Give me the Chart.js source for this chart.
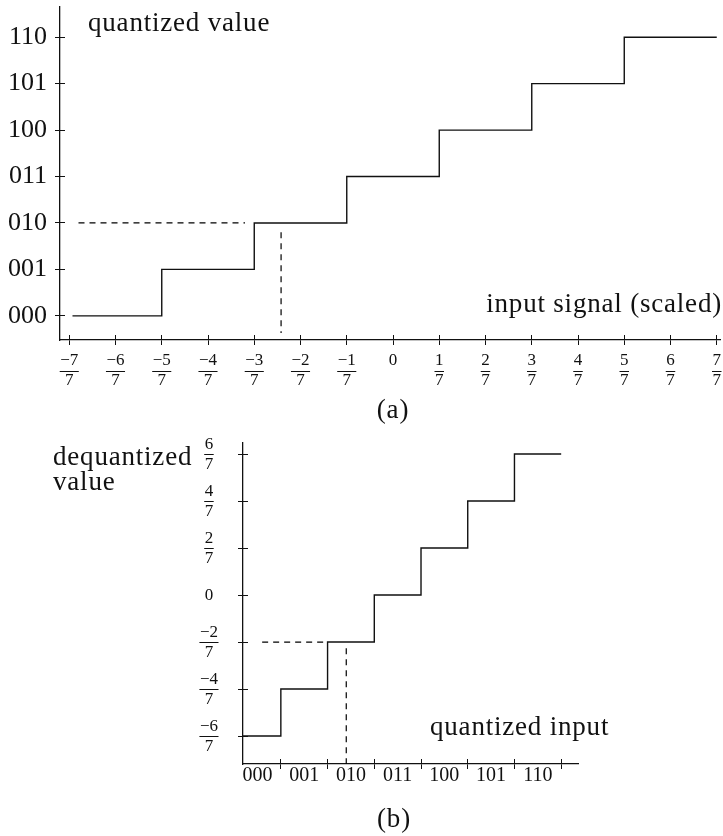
<!DOCTYPE html>
<html>
<head>
<meta charset="utf-8">
<script src="https://cdn.jsdelivr.net/npm/chart.js@4.4.1/dist/chart.umd.min.js"></script>
<style>
  body { margin: 0; background: #fff; overflow: hidden; }
  canvas { position: absolute; left: 0; }
  #chartA { top: 0; }
  #chartB { top: 430px; }
</style>
</head>
<body>
<canvas id="chartA" width="723" height="430"></canvas>
<canvas id="chartB" width="723" height="406"></canvas>
<script>
// (a) quantizer: input in sevenths -> 3 bit code
const inputTicks = [-7, -6, -5, -4, -3, -2, -1, 0, 1, 2, 3, 4, 5, 6, 7];
const codeLabels = ['000', '001', '010', '011', '100', '101', '110'];
const stepEdgesA = [-6.93, -5, -3, -1, 1, 3, 5, 7];
const stepLevelsA = [0, 1, 2, 3, 4, 5, 6, 6];
const guideHxA = [-6.8, -3.2];
const guideHyA = [2, 2];
const guideVxA = [-2.42, -2.42];
const guideVyA = [1.8, -0.37];

// (b) dequantizer: code -> value in sevenths
const dequantTicks = [-6, -4, -2, 0, 2, 4, 6];
const codeCenters = [0.5, 1.5, 2.5, 3.5, 4.5, 5.5, 6.5];
const codeEdges = [1, 2, 3, 4, 5, 6, 7];
const stepEdgesB = [0.19, 1, 2, 3, 4, 5, 6, 7];
const stepLevelsB = [-6, -4, -2, 0, 2, 4, 6, 6];
const guideHxB = [0.6, 2];
const guideHyB = [-2, -2];
const guideVxB = [2.4, 2.4];
const guideVyB = [-2.26, -7.19];

Chart.defaults.font.family = '"Liberation Serif", serif';
Chart.defaults.color = '#111';

const INK = '#111';
const frac = v => v === 0 ? '0' : [(v < 0 ? '\u2212' : '') + Math.abs(v), '7'];
const pts = (xs, ys) => xs.map((x, i) => ({ x, y: ys[i] }));
const align = (p) => Math.round(p - 0.5) + 0.5;

// tick marks crossing the axis, fraction bars, free text
function texDecor(notes, skipHalf) {
  return {
    id: 'texDecor',
    afterDraw(chart) {
      const ctx = chart.ctx, area = chart.chartArea;
      ctx.save();
      ctx.strokeStyle = INK;
      ctx.lineWidth = 1;
      Object.values(chart.scales).forEach(scale => {
        scale.ticks.forEach((t, i) => {
          if (skipHalf && scale.axis === 'x' && !Number.isInteger(t.value)) return;
          const p = align(scale.getPixelForTick(i));
          ctx.beginPath();
          if (scale.axis === 'x') { ctx.moveTo(p, area.bottom); ctx.lineTo(p, area.bottom - 5); }
          else { ctx.moveTo(area.left, p); ctx.lineTo(area.left + 5, p); }
          ctx.stroke();
        });
        scale.getLabelItems().forEach(item => {
          if (!Array.isArray(item.label) || item.label.length !== 2) return;
          const [x, y0] = item.options.translation;
          ctx.font = item.font.string;
          const w = Math.max(ctx.measureText(item.label[0]).width, ctx.measureText(item.label[1]).width) + 1;
          const y = align(y0 + item.textOffset + item.font.lineHeight / 2);
          const a = item.options.textAlign;
          const x0 = a === 'center' ? x - w / 2 : a === 'right' ? x - w : x;
          ctx.beginPath();
          ctx.moveTo(x0, y);
          ctx.lineTo(x0 + w, y);
          ctx.stroke();
        });
      });
      ctx.fillStyle = INK;
      ctx.font = '27px "Liberation Serif"';
      ctx.letterSpacing = '0.8px';
      ctx.textBaseline = 'alphabetic';
      notes.forEach(n => {
        ctx.textAlign = n.align;
        ctx.fillText(n.text, n.x, n.y);
      });
      ctx.restore();
    }
  };
}

const axisStyle = {
  border: { color: INK, width: 1.3 },
  grid: { drawOnChartArea: false, drawTicks: true, tickLength: 5, color: INK, lineWidth: 1 }
};
const stepStyle = { stepped: true, borderColor: INK, borderWidth: 1.4, pointRadius: 0, fill: false };
const dashStyle = { borderColor: '#000', borderWidth: 1.2, borderDash: [6, 5], pointRadius: 0, fill: false };

new Chart(document.getElementById('chartA'), {
  type: 'line',
  data: {
    datasets: [
      { data: pts(stepEdgesA, stepLevelsA), ...stepStyle },
      { data: pts(guideHxA, guideHyA), ...dashStyle },
      { data: pts(guideVxA, guideVyA), ...dashStyle }
    ]
  },
  options: {
    responsive: false,
    animation: false,
    events: [],
    layout: { padding: { top: 7, right: 3, left: 0, bottom: 0 } },
    plugins: { legend: { display: false }, tooltip: { enabled: false } },
    scales: {
      x: {
        type: 'linear', min: -7.2, max: 7.07,
        afterBuildTicks: s => { s.ticks = inputTicks.map(v => ({ value: v })); },
        afterFit: s => { s.height = 90; s.paddingLeft = 0; s.paddingRight = 0; },
        ...axisStyle,
        ticks: { autoSkip: false, maxRotation: 0, padding: 6, font: { size: 17, lineHeight: '20px' }, callback: v => frac(v) }
      },
      y: {
        type: 'linear', min: -0.52, max: 6.65,
        afterBuildTicks: s => { s.ticks = codeLabels.map((_, i) => ({ value: i })); },
        afterFit: s => { s.width = 60; s.paddingTop = 0; s.paddingBottom = 0; },
        ...axisStyle,
        ticks: { autoSkip: false, padding: 8, font: { size: 26, lineHeight: 1 }, callback: v => codeLabels[v] }
      }
    }
  },
  plugins: [texDecor([
    { text: 'quantized value', x: 88, y: 31, align: 'left' },
    { text: 'input signal (scaled)', x: 722, y: 312, align: 'right' },
    { text: '(a)', x: 393, y: 418, align: 'center' }
  ], false)]
});

new Chart(document.getElementById('chartB'), {
  type: 'line',
  data: {
    datasets: [
      { data: pts(stepEdgesB, stepLevelsB), ...stepStyle },
      { data: pts(guideHxB, guideHyB), ...dashStyle },
      { data: pts(guideVxB, guideVyB), ...dashStyle }
    ]
  },
  options: {
    responsive: false,
    animation: false,
    events: [],
    layout: { padding: { top: 13, right: 145, left: 0, bottom: 0 } },
    plugins: { legend: { display: false }, tooltip: { enabled: false } },
    scales: {
      x: {
        type: 'linear', min: 0.19, max: 7.36,
        afterBuildTicks: s => { s.ticks = codeCenters.concat(codeEdges).sort((a, b) => a - b).map(v => ({ value: v })); },
        afterFit: s => { s.height = 72; s.paddingLeft = 0; s.paddingRight = 0; },
        border: axisStyle.border,
        grid: { ...axisStyle.grid, tickColor: c => Number.isInteger(c.tick.value) ? INK : 'rgba(0,0,0,0)' },
        ticks: {
          autoSkip: false, maxRotation: 0, padding: -3, font: { size: 20, lineHeight: 1 },
          callback: v => Number.isInteger(v) ? '' : codeLabels[Math.floor(v)]
        }
      },
      y: {
        type: 'linear', min: -7.19, max: 6.47,
        afterBuildTicks: s => { s.ticks = dequantTicks.map(v => ({ value: v })); },
        afterFit: s => { s.width = 243; s.paddingTop = 0; s.paddingBottom = 0; },
        ...axisStyle,
        ticks: { autoSkip: false, crossAlign: 'center', padding: 20, font: { size: 17, lineHeight: '20px' }, callback: v => frac(v) }
      }
    }
  },
  plugins: [texDecor([
    { text: 'dequantized', x: 53, y: 35, align: 'left' },
    { text: 'value', x: 53, y: 60, align: 'left' },
    { text: 'quantized input', x: 430, y: 305, align: 'left' },
    { text: '(b)', x: 394, y: 397, align: 'center' }
  ], true)]
});
</script>
</body>
</html>
